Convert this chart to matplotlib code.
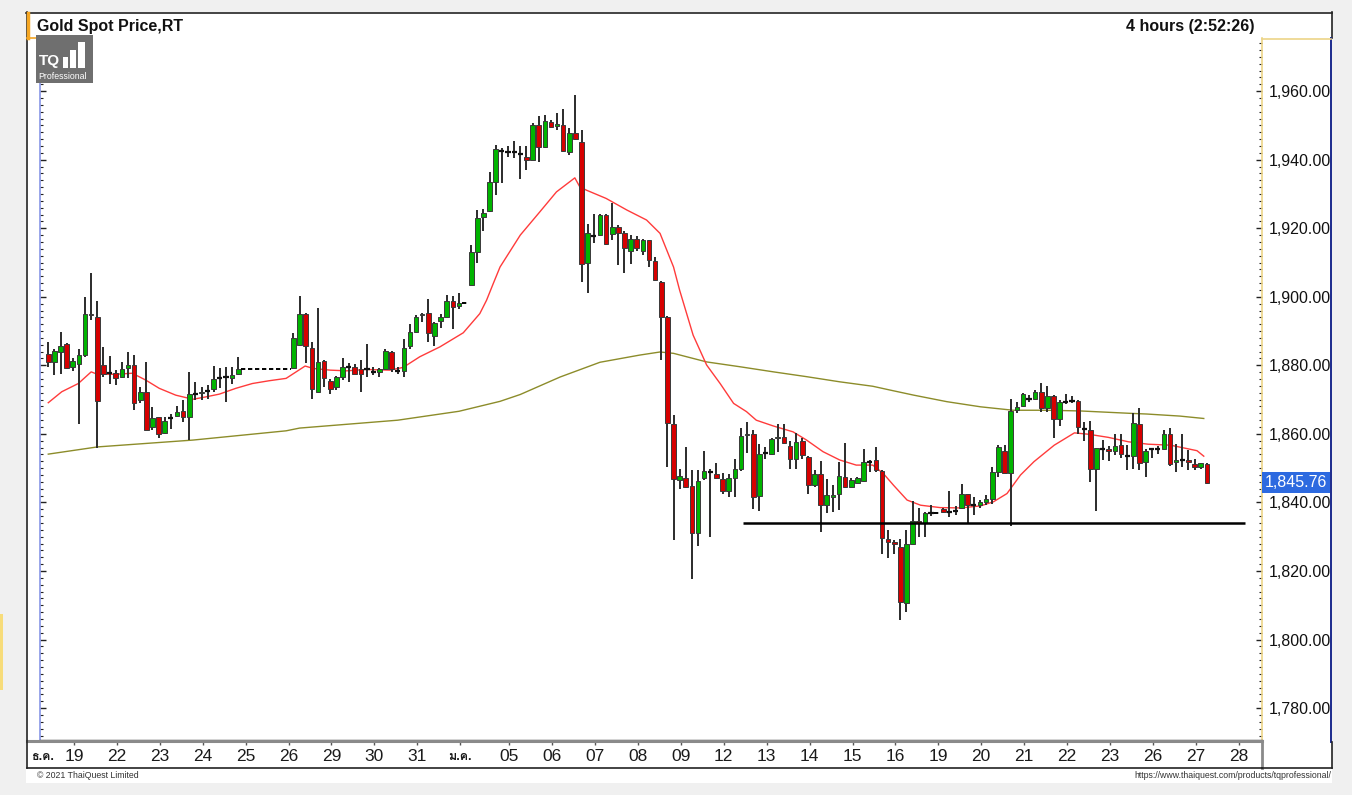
import matplotlib
matplotlib.use('Agg')
import matplotlib.pyplot as plt
from matplotlib.patches import Rectangle
from matplotlib.lines import Line2D
from matplotlib.ticker import MultipleLocator, FuncFormatter
import matplotlib.transforms as mtransforms
from matplotlib import font_manager
from matplotlib.ft2font import FT2Font

# find an installed family that has Thai glyphs
thai_families = []
for fe in font_manager.fontManager.ttflist:
    try:
        if 0x0E18 in FT2Font(fe.fname).get_charmap():
            if fe.name not in thai_families:
                thai_families.append(fe.name)
    except Exception:
        pass
FAMILIES = ['Liberation Sans', 'DejaVu Sans'] + thai_families[:2]
plt.rcParams['font.family'] = FAMILIES

# ---------------- data (4-hour bars, slot index = bar position) ----------------
slots = [0, 1, 2, 3, 4, 5, 6, 7, 8, 9, 10, 11, 12, 13, 14, 15, 16, 17, 18, 19, 20,
         21, 22, 23, 24, 25, 26, 27, 28, 29, 30, 31,
         40, 41, 42, 43, 44, 45, 46, 47, 48, 49, 50, 51, 52, 53, 54, 55, 56, 57, 58,
         59, 60, 61, 62, 63, 64, 65, 66, 67,
         69, 70, 71, 72, 73, 74, 75, 76, 77, 78, 79, 80, 81, 82, 83, 84, 85, 86, 87,
         88, 89, 90, 91, 92, 93, 94, 95, 96, 97, 98, 99, 100, 101, 102, 103, 104,
         105, 106, 107, 108, 109, 110, 111, 112, 113, 114, 115, 116, 117, 118, 119,
         120, 121, 122, 123, 124, 125, 126, 127, 128, 129, 130, 131, 132, 133, 134,
         135, 136, 137, 138, 139, 140, 141, 142, 143, 144,
         146, 147, 148, 149, 150, 151, 152, 153, 154, 155, 156, 157, 158, 159, 160,
         161, 162, 163, 164, 165, 166, 167, 168, 169, 170, 171, 172, 173, 174, 175,
         176, 177, 178, 179, 180, 181, 182, 183, 184, 185, 186, 187, 188, 189]

opens = [1883.3, 1881.0, 1884.0, 1886.2, 1879.4, 1880.3, 1883.0, 1895.1, 1894.0, 1880.1,
         1877.7, 1877.8, 1876.5, 1879.1, 1880.1, 1869.9, 1872.3, 1862.1, 1864.8, 1860.4,
         1864.5, 1865.3, 1866.8, 1864.8, 1871.5, 1871.8, 1872.6, 1873.0, 1876.2, 1876.5,
         1876.2, 1877.6,
         1879.1, 1885.9, 1895.1, 1885.2, 1872.1, 1881.2, 1875.5, 1873.6, 1876.7, 1879.4,
         1879.4, 1878.8, 1878.8, 1878.1, 1878.1, 1878.8, 1884.0, 1878.4, 1878.4, 1885.6,
         1889.8, 1894.6, 1895.4, 1888.5, 1893.0, 1894.2, 1898.7, 1897.3,
         1903.4, 1913.1, 1923.3, 1925.0, 1933.6, 1942.6, 1942.3, 1942.1, 1941.6, 1940.8,
         1939.9, 1950.1, 1943.6, 1950.9, 1949.9, 1950.1, 1942.3, 1947.7, 1945.2, 1909.9,
         1917.8, 1918.0, 1923.8, 1918.3, 1920.4, 1918.5, 1913.4, 1916.8, 1913.4, 1916.5,
         1910.4, 1904.4, 1894.2, 1862.9, 1846.5, 1847.0, 1844.8, 1831.0, 1847.0, 1848.8,
         1848.2, 1846.8, 1843.4, 1847.0, 1849.7, 1859.7, 1860.1, 1842.0, 1854.3, 1854.1,
         1858.7, 1859.2, 1856.5, 1852.6, 1857.9, 1853.3, 1845.1, 1848.2, 1839.4, 1841.7,
         1842.4, 1847.5, 1844.4, 1845.8, 1846.2, 1851.9, 1852.4, 1849.2, 1829.2, 1828.5,
         1826.9, 1810.7, 1828.0, 1834.7, 1833.9, 1836.8,
         1838.0, 1837.3, 1837.6, 1838.3, 1842.4, 1839.2, 1839.2, 1840.0, 1841.0, 1849.0,
         1855.1, 1848.5, 1867.1, 1868.2, 1870.3, 1870.3, 1872.3, 1867.7, 1871.1, 1864.3,
         1869.4, 1869.6, 1869.7, 1861.3, 1861.1, 1849.7, 1855.5, 1855.5, 1855.1, 1856.7,
         1853.5, 1853.5, 1862.9, 1851.7, 1855.5, 1855.5, 1855.5, 1860.1, 1851.9, 1852.5,
         1852.5, 1851.2, 1850.4, 1851.1]

highs = [1886.7, 1884.9, 1889.8, 1886.4, 1882.0, 1884.9, 1899.8, 1906.8, 1898.8, 1885.4,
         1882.7, 1878.6, 1881.0, 1884.0, 1883.0, 1873.7, 1881.0, 1867.9, 1865.0, 1865.0,
         1865.8, 1868.1, 1869.9, 1878.1, 1875.2, 1873.6, 1874.2, 1879.8, 1879.3, 1879.4,
         1879.4, 1882.3,
         1889.3, 1900.3, 1895.4, 1886.7, 1896.6, 1881.5, 1875.9, 1876.9, 1882.2, 1880.6,
         1880.4, 1881.5, 1886.2, 1879.4, 1879.1, 1884.9, 1884.1, 1879.4, 1887.8, 1892.2,
         1894.7, 1895.4, 1899.5, 1892.7, 1895.1, 1900.5, 1900.3, 1901.0,
         1915.1, 1925.3, 1925.5, 1936.5, 1944.4, 1943.3, 1944.0, 1945.5, 1944.0, 1944.0,
         1950.6, 1952.7, 1953.0, 1951.7, 1953.5, 1954.9, 1949.1, 1958.8, 1948.8, 1921.2,
         1924.3, 1924.3, 1924.3, 1927.4, 1920.9, 1919.3, 1918.0, 1917.8, 1917.0, 1916.7,
         1911.7, 1904.7, 1894.5, 1865.5, 1849.7, 1856.2, 1849.6, 1849.6, 1855.1, 1849.9,
         1851.4, 1848.5, 1848.3, 1852.8, 1861.8, 1863.5, 1861.1, 1857.2, 1856.2, 1858.9,
         1862.9, 1862.8, 1857.9, 1860.3, 1858.9, 1853.5, 1849.4, 1852.2, 1846.7, 1845.1,
         1851.7, 1857.4, 1847.2, 1847.5, 1855.5, 1852.4, 1856.2, 1849.6, 1831.9, 1829.0,
         1829.2, 1831.9, 1840.5, 1838.3, 1837.3, 1839.2,
         1838.3, 1843.4, 1838.9, 1845.3, 1842.6, 1841.5, 1840.7, 1842.2, 1850.4, 1856.7,
         1856.7, 1870.1, 1869.2, 1872.0, 1871.3, 1872.8, 1874.9, 1873.9, 1871.3, 1869.9,
         1871.5, 1871.1, 1869.9, 1863.5, 1863.8, 1856.0, 1858.2, 1856.4, 1860.1, 1860.1,
         1856.7, 1866.0, 1867.7, 1855.7, 1855.8, 1856.4, 1861.1, 1861.6, 1857.0, 1859.9,
         1855.3, 1852.8, 1851.6, 1851.4]

lows = [1879.6, 1877.3, 1877.6, 1878.8, 1878.3, 1863.0, 1882.5, 1893.2, 1855.8, 1876.7,
        1874.7, 1874.2, 1876.2, 1876.2, 1866.9, 1868.9, 1861.1, 1861.1, 1858.7, 1860.1,
        1861.3, 1865.0, 1863.5, 1858.2, 1869.9, 1869.9, 1870.3, 1872.3, 1873.3, 1869.4,
        1874.7, 1877.2,
        1878.8, 1885.6, 1880.6, 1870.1, 1872.1, 1873.6, 1871.5, 1872.8, 1875.7, 1875.2,
        1877.4, 1872.3, 1876.7, 1877.2, 1876.7, 1878.6, 1878.1, 1877.6, 1876.5, 1884.9,
        1889.3, 1892.7, 1886.9, 1885.7, 1890.8, 1894.0, 1890.5, 1896.3,
        1903.4, 1909.9, 1919.2, 1924.8, 1929.7, 1933.1, 1940.7, 1940.4, 1934.5, 1937.0,
        1939.9, 1939.4, 1943.3, 1949.1, 1948.8, 1942.3, 1941.3, 1945.7, 1904.4, 1901.2,
        1915.6, 1917.8, 1915.1, 1916.5, 1909.2, 1907.0, 1909.5, 1913.4, 1912.2, 1908.6,
        1904.7, 1881.5, 1850.2, 1829.0, 1843.8, 1844.1, 1817.8, 1827.3, 1846.5, 1829.8,
        1846.7, 1842.6, 1841.7, 1841.5, 1849.2, 1854.3, 1838.0, 1837.6, 1852.8, 1853.8,
        1854.6, 1857.0, 1849.9, 1849.9, 1852.8, 1842.6, 1844.6, 1831.5, 1836.8, 1837.3,
        1837.8, 1844.1, 1844.4, 1845.6, 1846.0, 1849.0, 1849.0, 1825.1, 1823.7, 1825.1,
        1805.7, 1808.1, 1828.0, 1830.0, 1829.8, 1836.0,
        1837.0, 1835.8, 1836.3, 1838.0, 1833.7, 1836.3, 1838.3, 1839.2, 1839.5, 1847.5,
        1848.7, 1833.2, 1866.0, 1867.9, 1869.4, 1869.9, 1866.5, 1866.5, 1858.7, 1862.4,
        1868.7, 1868.9, 1859.9, 1858.0, 1846.0, 1837.6, 1852.4, 1852.2, 1853.8, 1853.1,
        1849.6, 1849.9, 1849.6, 1847.3, 1853.1, 1854.1, 1855.3, 1850.6, 1849.0, 1850.4,
        1849.4, 1849.6, 1849.7, 1845.4]

closes = [1881.0, 1884.2, 1885.7, 1879.3, 1881.3, 1883.0, 1895.1, 1894.7, 1869.7, 1877.6,
          1877.5, 1876.2, 1878.8, 1880.1, 1869.1, 1872.3, 1861.1, 1864.5, 1860.1, 1863.8,
          1864.5, 1866.5, 1865.0, 1871.5, 1871.5, 1872.3, 1872.6, 1875.9, 1876.2, 1876.5,
          1877.3, 1878.8,
          1888.1, 1895.1, 1885.6, 1873.0, 1881.0, 1876.2, 1873.0, 1876.7, 1879.4, 1879.4,
          1877.6, 1877.4, 1878.8, 1878.1, 1878.8, 1884.2, 1878.8, 1878.4, 1885.1, 1889.8,
          1894.2, 1895.1, 1889.5, 1892.5, 1894.0, 1898.7, 1897.1, 1898.1,
          1913.1, 1923.1, 1924.5, 1933.6, 1943.0, 1942.6, 1942.3, 1942.1, 1941.6, 1939.9,
          1950.1, 1943.8, 1951.3, 1949.6, 1950.4, 1942.6, 1947.7, 1945.9, 1909.7, 1918.5,
          1917.8, 1924.0, 1915.4, 1920.4, 1918.7, 1914.1, 1916.8, 1914.1, 1916.5, 1910.7,
          1904.9, 1894.2, 1863.1, 1846.7, 1847.8, 1844.6, 1831.0, 1846.2, 1849.2, 1848.8,
          1847.0, 1843.4, 1847.0, 1849.7, 1859.5, 1860.1, 1841.7, 1854.1, 1854.3, 1858.5,
          1859.2, 1857.4, 1852.8, 1857.7, 1853.8, 1845.1, 1848.3, 1839.4, 1842.2, 1842.2,
          1847.7, 1844.4, 1846.5, 1847.0, 1851.7, 1851.9, 1849.4, 1829.5, 1828.5, 1828.0,
          1811.0, 1827.8, 1834.7, 1833.9, 1836.8, 1836.8,
          1837.3, 1837.3, 1837.6, 1842.6, 1839.2, 1839.2, 1840.0, 1841.0, 1848.8, 1856.1,
          1848.7, 1866.7, 1867.9, 1871.6, 1870.3, 1872.3, 1867.7, 1871.1, 1864.3, 1869.2,
          1869.4, 1869.6, 1862.1, 1861.3, 1849.7, 1855.8, 1855.5, 1855.1, 1856.5, 1854.1,
          1853.5, 1863.1, 1851.4, 1855.1, 1855.5, 1855.5, 1860.1, 1851.1, 1852.5, 1852.5,
          1851.9, 1850.2, 1851.4, 1845.76]

# short moving average (red), read as points
ma_fast_slot = [0, 2.2, 4.9, 7, 8, 11, 13.7, 15.9, 18.1, 20.8, 23.6, 25.7, 27.9, 30.6,
                33.3, 36, 38.8, 41.9, 43.2, 46, 48.7, 51.9, 55.7, 57.9, 60.6, 63.9, 67.7,
                70.4, 71.5, 72.6, 73.7, 77, 80.2, 82.9, 85.9, 86.7, 87.8, 91, 94.4, 97.6,
                99.8, 100.9, 102, 103, 105.2, 107.4, 109.6, 111.8, 113.9, 115.5, 118.3,
                121.5, 123.7, 126.4, 129.1, 131.8, 134.5, 136.2, 137.9, 140.1, 142.3,
                145.5, 148.8, 152.1, 154.2, 156.4, 158.6, 160.8, 164.1, 167.4, 169.7,
                172.9, 176.2, 179.4, 183.1, 185.8, 187.4, 188.5]
ma_fast_val = [1869.1, 1872.3, 1874.7, 1878.1, 1877.4, 1877.4, 1877.7, 1875.7, 1873.3,
               1871.3, 1870.1, 1870.8, 1871.6, 1873.3, 1874.7, 1875.5, 1876.2, 1879.8,
               1879.1, 1878.6, 1878.4, 1878.8, 1878.6, 1879.4, 1882.5, 1885.4, 1889.5,
               1895.1, 1899.0, 1903.9, 1908.7, 1918.0, 1924.8, 1930.6, 1934.7, 1932.1,
               1931.1, 1928.7, 1925.3, 1922.4, 1918.5, 1913.6, 1908.7, 1901.9, 1888.8,
               1880.1, 1874.7, 1868.9, 1866.5, 1864.0, 1862.3, 1860.6, 1858.2, 1854.8,
               1852.4, 1850.9, 1850.9, 1848.5, 1845.0, 1840.7, 1839.2, 1838.5, 1838.4,
               1839.0, 1840.2, 1842.6, 1848.0, 1851.9, 1856.7, 1860.3, 1859.9, 1859.0,
               1857.7, 1857.0, 1856.7, 1855.7, 1855.1, 1853.5]

# long moving average (olive), read as points
ma_slow_slot = [0, 8, 23.6, 38.8, 41, 57, 67, 73.7, 77, 83.5, 90, 96.5, 99.8, 102, 107.4,
                112.8, 118.3, 123.7, 129.1, 134.5, 137.3, 141.2, 146.6, 152.1, 157.4,
                162.9, 168.3, 176.5, 179.2, 184.6, 188.5]
ma_slow_val = [1854.1, 1856.2, 1858.2, 1860.9, 1861.7, 1864.0, 1866.6, 1869.5, 1871.5,
               1876.6, 1880.9, 1883.0, 1883.9, 1883.5, 1881.0, 1879.6, 1878.1, 1876.7,
               1875.2, 1873.9, 1872.8, 1871.3, 1869.4, 1867.9, 1866.9, 1866.9, 1866.7,
               1866.0, 1865.8, 1865.2, 1864.5]

support_level = 1834.0
support_from, support_to = 113.3, 195.2

day_labels = ['19', '22', '23', '24', '25', '26', '29', '30', '31', 'ม.ค.',
              '05', '06', '07', '08', '09', '12', '13', '14', '15', '16',
              '19', '20', '21', '22', '23', '26', '27', '28']
month_label_start = 'ธ.ค.'
price_ticks = [1780, 1800, 1820, 1840, 1860, 1880, 1900, 1920, 1940, 1960]
last_price = 1845.76

# ---------------- layout helpers ----------------
W, H = 1352, 795
fig = plt.figure(figsize=(W / 100, H / 100), dpi=100, facecolor='#f0f0f0')


def fr(x0, y0, x1, y1):
    return [x0 / W, 1 - y1 / H, (x1 - x0) / W, (y1 - y0) / H]


def frect(x0, y0, x1, y1, **kw):
    fig.patches.append(Rectangle((x0 / W, 1 - y1 / H), (x1 - x0) / W, (y1 - y0) / H,
                                 transform=fig.transFigure, **kw))


def fline(xs, ys, **kw):
    fig.lines.append(Line2D([x / W for x in xs], [1 - y / H for y in ys],
                            transform=fig.transFigure, **kw))


# white chart panel
frect(26, 12, 1332, 783, fc='white', ec='none', zorder=-5)
frect(0, 614, 3, 690, fc='#f7dc7a', ec='none', zorder=-4)

# ---------------- main price axes ----------------
PX_L, PX_R = 40, 1262
XL = (-1.35, 198.0)
ax = fig.add_axes(fr(PX_L, 38, PX_R, 740))
ax.set_facecolor('white')
ax.set_xlim(*XL)
ax.set_ylim(1770.7, 1975.5)

green, red = '#00b400', '#d60000'
for s, o, h, l, c in zip(slots, opens, highs, lows, closes):
    ax.vlines(s, l, h, color='#2b2b2b', lw=1.4, zorder=3)
    if abs(c - o) < 0.35:
        ax.hlines(o, s - 0.42, s + 0.42, color='#111111', lw=1.6, zorder=4)
    else:
        ax.bar(s, abs(c - o), bottom=min(o, c), width=0.75,
               color=green if c > o else red, edgecolor='#3a3a3a', lw=0.7, zorder=4)

# holiday gaps: dashed line at the last close
for i in range(1, len(slots)):
    if slots[i] - slots[i - 1] > 1:
        ax.hlines(closes[i - 1], slots[i - 1] + 0.45, slots[i] - 0.45, color='black',
                  lw=1.4, linestyles=(0, (2.2, 1.4)), zorder=4)

ax.plot(ma_slow_slot, ma_slow_val, color='#8c8c2a', lw=1.0, zorder=2)
ax.plot(ma_fast_slot, ma_fast_val, color='#ff3b3b', lw=1.0, zorder=2)
ax.hlines(support_level, support_from, support_to, color='black', lw=1.8, zorder=5)

ax.set_xticks([])
ax.set_yticks(price_ticks)
ax.yaxis.set_minor_locator(MultipleLocator(2))
ax.yaxis.set_major_formatter(FuncFormatter(lambda v, p: f'{v:,.2f}'))
ax.tick_params(axis='y', which='both', left=True, right=True, direction='in',
               labelleft=False, labelright=True, colors='#222222', labelcolor='#111111')
ax.tick_params(axis='y', which='major', length=4, width=1, labelsize=11.5, pad=5)
ax.tick_params(axis='y', which='minor', length=2, width=0.8)
ax.spines['top'].set_visible(False)
ax.spines['left'].set_color('#8796e6')
ax.spines['left'].set_linewidth(1.2)
ax.spines['right'].set_color('#ecd488')
ax.spines['right'].set_linewidth(1.2)
ax.spines['bottom'].set_color('#333333')
ax.spines['bottom'].set_linewidth(1.0)

# last price tag
trans = mtransforms.blended_transform_factory(ax.transAxes, ax.transData)
ax.text(1.002, last_price, f'{last_price:,.2f}', transform=trans, ha='left', va='center',
        color='white', fontsize=11.5, zorder=10, clip_on=False,
        bbox=dict(boxstyle='square,pad=0.18', fc='#2d6ae0', ec='none'))

# ---------------- date strip ----------------
px_per_slot = (PX_R - PX_L) / (XL[1] - XL[0])
ax2 = fig.add_axes(fr(27, 741, PX_R, 768))
ax2.set_xlim(XL[0] - (PX_L - 27) / px_per_slot, XL[1])
ax2.set_ylim(0, 1)
ax2.set_facecolor('white')
tick_pos = [4.2 + 7 * k for k in range(10)] + [75.2 + 7 * k for k in range(18)]
ax2.set_xticks(tick_pos)
ax2.set_yticks([])
ax2.tick_params(axis='x', top=True, bottom=False, direction='in', length=3, width=1,
                color='#555555', labelbottom=False)
ax2.spines['left'].set_visible(False)
ax2.spines['top'].set_color('#8a8a8a')
ax2.spines['top'].set_linewidth(2.2)
ax2.spines['bottom'].set_color('#222222')
ax2.spines['bottom'].set_linewidth(1.2)
ax2.spines['right'].set_color('#8a8a8a')
ax2.spines['right'].set_linewidth(2.0)
xt = ax2.get_xaxis_transform()
for p, lab in zip(tick_pos, day_labels):
    thai = not lab.isdigit()
    ax2.text(p, 0.42, lab, transform=xt, ha='center', va='center',
             fontsize=9 if thai else 12.5, fontweight='bold' if thai else 'normal',
             color='#1a1a1a', family=FAMILIES)
ax2.text(0.003, 0.42, month_label_start, transform=ax2.transAxes, ha='left', va='center',
         fontsize=9, fontweight='bold', color='#1a1a1a', family=FAMILIES)

# ---------------- frame lines ----------------
fline([26, 1332], [12.5, 12.5], color='#222222', lw=1.2, zorder=6)
fline([26.5, 26.5], [12, 768], color='#222222', lw=1.2, zorder=6)
fline([1331.5, 1331.5], [12, 38], color='#222222', lw=1.2, zorder=6)
fline([1331, 1331], [38, 742], color='#1b2a8c', lw=1.4, zorder=6)
fline([1262, 1331], [38.5, 38.5], color='#ecd488', lw=1.2, zorder=6)
fline([1262, 1332], [768, 768], color='#222222', lw=1.2, zorder=6)
fline([1331.5, 1331.5], [742, 768], color='#222222', lw=1.2, zorder=6)
fline([27, 36], [38, 38], color='#f5a623', lw=1.2, zorder=6)
fline([28, 28], [13, 38], color='#f5a623', lw=2.5, zorder=6)

# ---------------- titles ----------------
fig.text(37 / W, 1 - 26 / H, 'Gold Spot Price,RT', fontsize=11.5, fontweight='bold',
         va='center', ha='left', color='#111111')
fig.text(1255 / W, 1 - 26 / H, '4 hours (2:52:26)', fontsize=11.5, fontweight='bold',
         va='center', ha='right', color='#111111')

# logo
frect(36, 35, 93, 83, fc='#6f6f6f', ec='none', zorder=10)
fig.text(39 / W, 1 - 61 / H, 'TQ', fontsize=11, fontweight='bold', color='white',
         va='center', ha='left', zorder=11)
for bx0, by0, bx1 in [(63, 57, 68), (70, 50, 76), (78, 42, 85)]:
    frect(bx0, by0, bx1, 68, fc='white', ec='none', zorder=11)
fig.text(38 / W, 1 - 76.5 / H, 'Professional', fontsize=6.3, color='white',
         va='center', ha='left', zorder=11)

# footer
fig.text(37 / W, 1 - 775 / H, '© 2021 ThaiQuest Limited', fontsize=6.3,
         color='#333333', va='center', ha='left')
fig.text(1331 / W, 1 - 775 / H, 'https://www.thaiquest.com/products/tqprofessional/',
         fontsize=6.3, color='#333333', va='center', ha='right')

fig.savefig('out.png', dpi=100, facecolor=fig.get_facecolor())
